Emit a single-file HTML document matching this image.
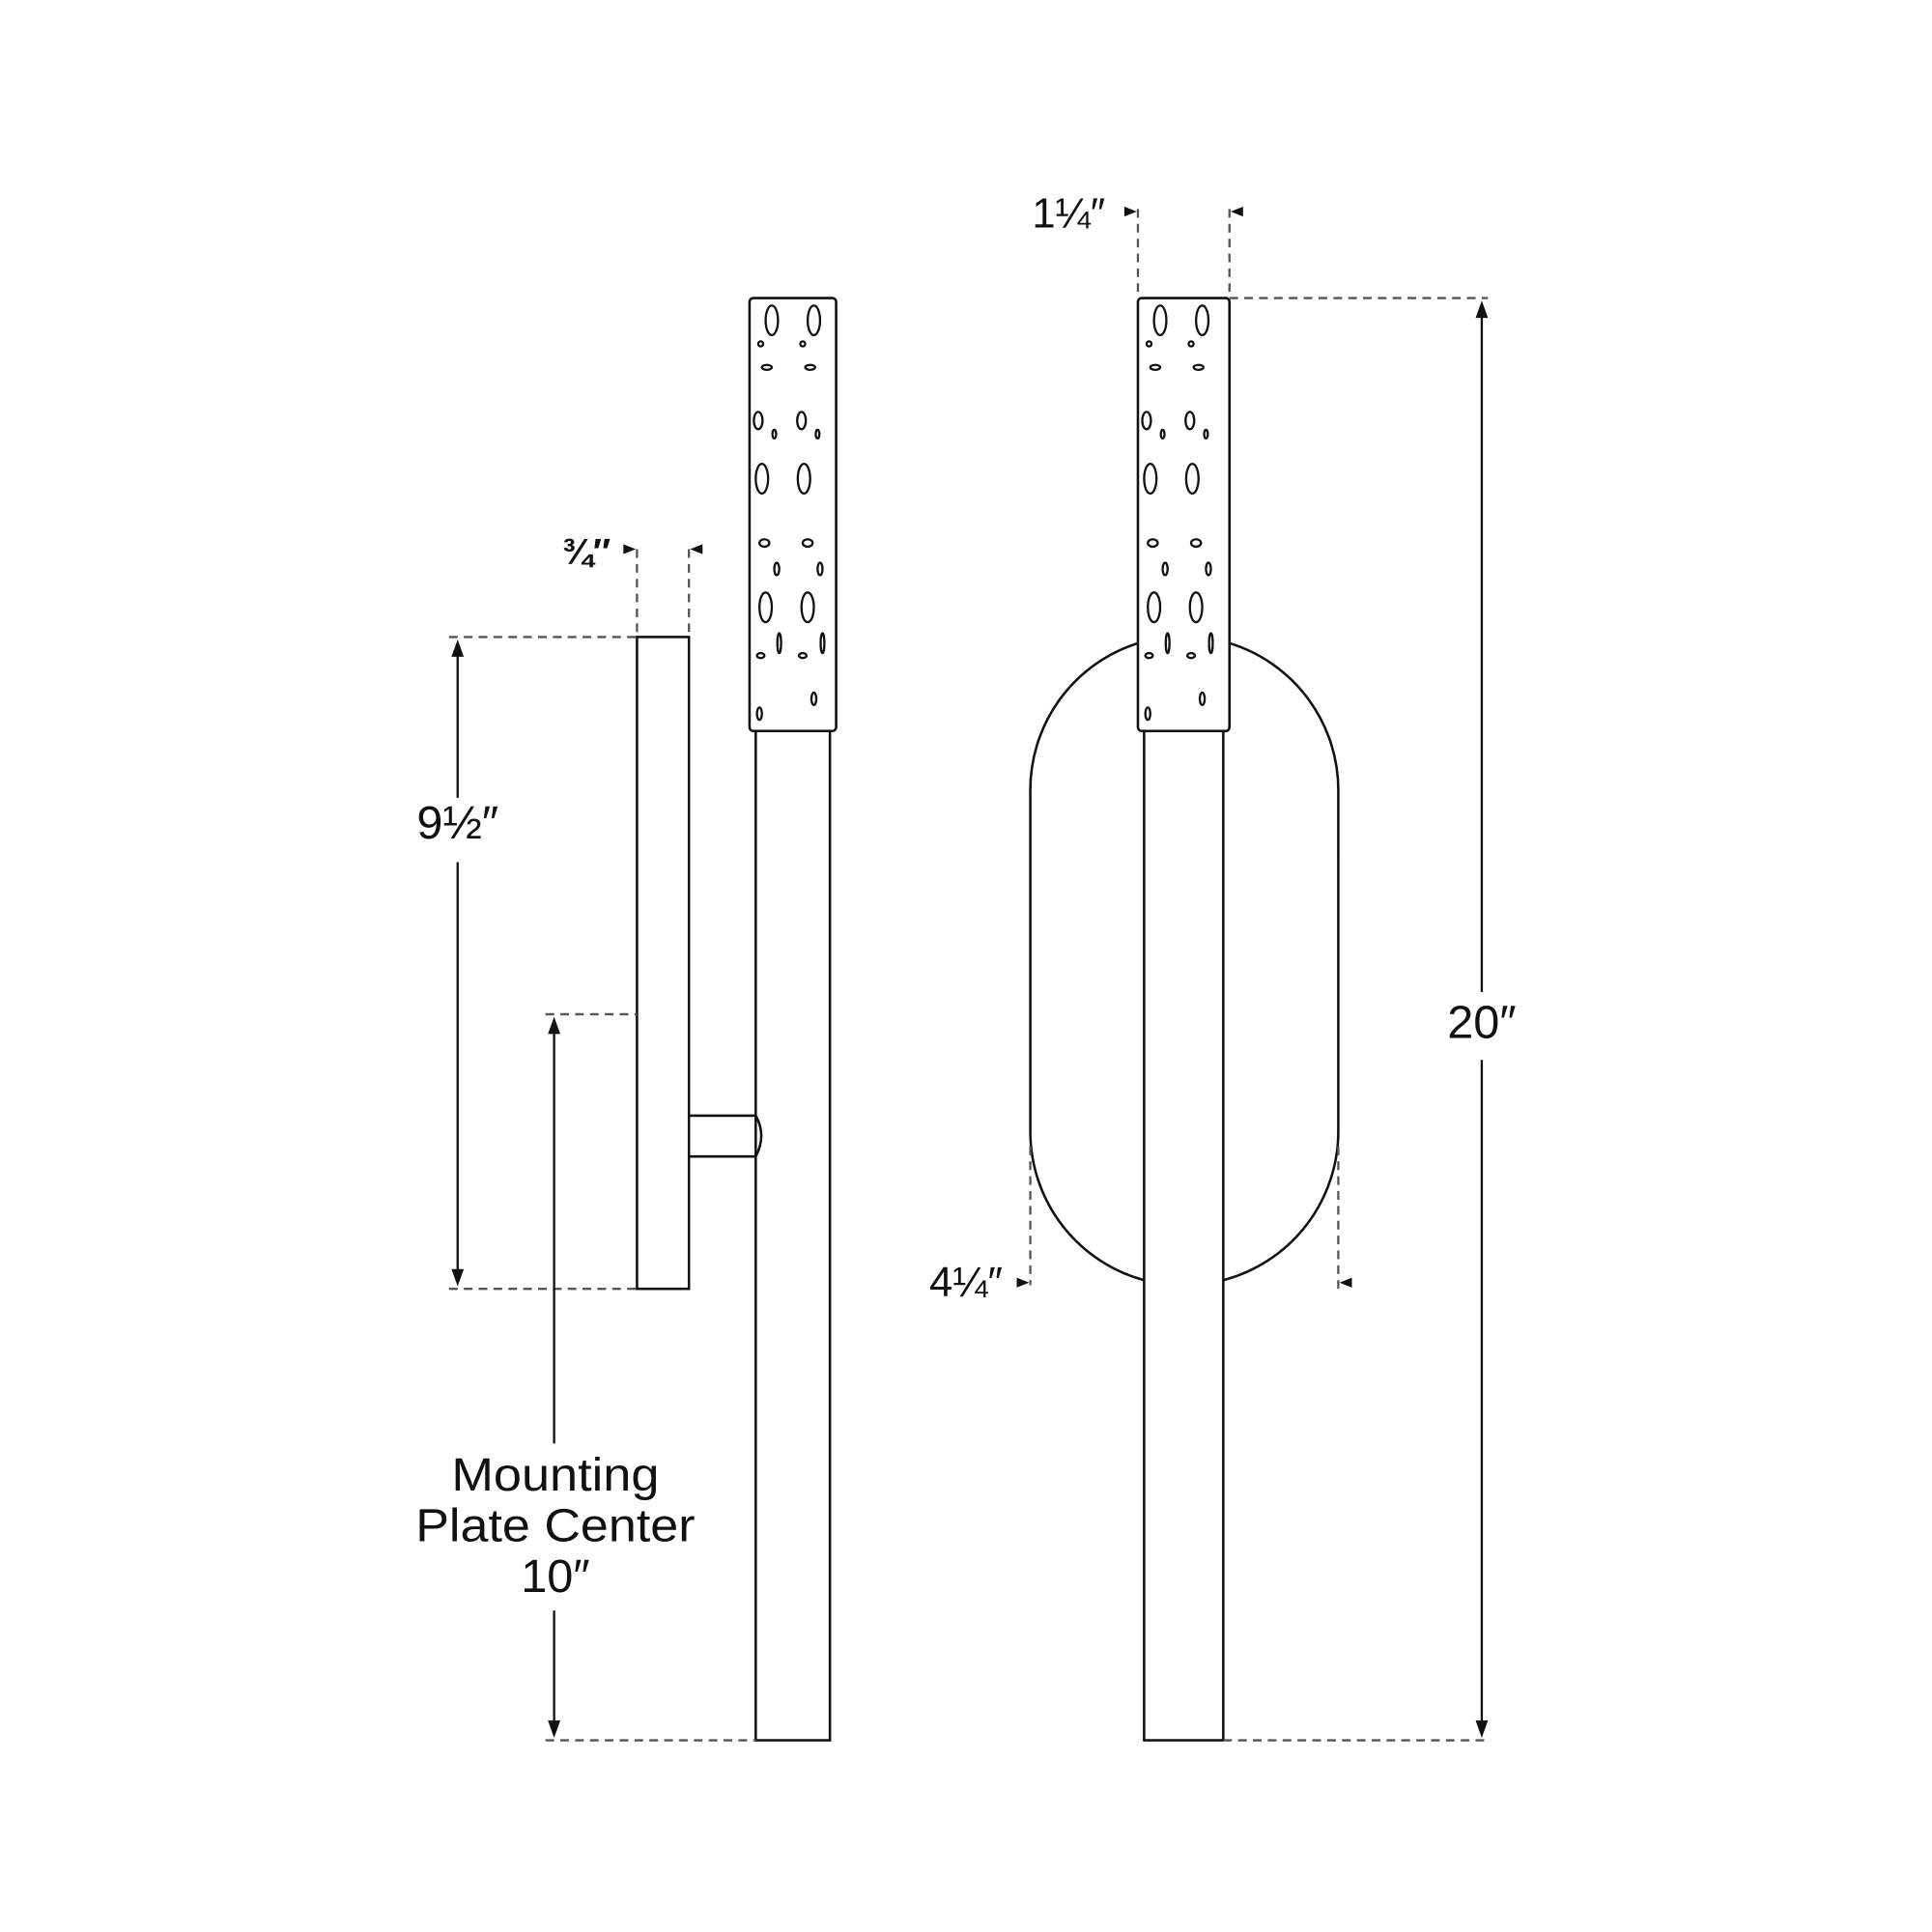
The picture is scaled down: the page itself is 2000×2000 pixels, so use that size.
<!DOCTYPE html>
<html><head><meta charset="utf-8"><style>html,body{margin:0;padding:0;background:#fff}svg{display:block}</style></head>
<body>
<svg width="2000" height="2000" viewBox="2 3 1562 1562" xmlns="http://www.w3.org/2000/svg">
<defs>
<g id="holes" fill="none" stroke="#111" stroke-width="1.8">
<ellipse cx="18" cy="18" rx="5" ry="12"/><ellipse cx="52" cy="18" rx="5" ry="12"/>
<ellipse cx="9" cy="37" rx="2" ry="2"/><ellipse cx="43" cy="37" rx="2" ry="2"/>
<ellipse cx="14" cy="56" rx="4" ry="2"/><ellipse cx="49" cy="56" rx="4" ry="2"/>
<ellipse cx="7" cy="99" rx="3.5" ry="7"/><ellipse cx="42" cy="99" rx="3.5" ry="7"/>
<ellipse cx="20" cy="110" rx="1.5" ry="3.5"/><ellipse cx="55" cy="110" rx="1.5" ry="3.5"/>
<ellipse cx="10" cy="146" rx="5" ry="12"/><ellipse cx="44" cy="146" rx="5" ry="12"/>
<ellipse cx="12" cy="198" rx="4" ry="3"/><ellipse cx="47" cy="198" rx="4" ry="3"/>
<ellipse cx="22" cy="219" rx="2" ry="5"/><ellipse cx="57" cy="219" rx="2" ry="5"/>
<ellipse cx="13" cy="250" rx="5" ry="12"/><ellipse cx="47" cy="250" rx="5" ry="12"/>
<ellipse cx="24" cy="279" rx="1.5" ry="8"/><ellipse cx="59" cy="279" rx="1.5" ry="8"/>
<ellipse cx="9" cy="289" rx="3" ry="2"/><ellipse cx="43" cy="289" rx="3" ry="2"/>
<ellipse cx="52" cy="324" rx="2" ry="5"/><ellipse cx="8" cy="336" rx="2" ry="5"/>
</g>
</defs>
<g fill="none" stroke="#111" stroke-width="2">
<rect x="517" y="518" width="42" height="527"/>
<path d="M559 905 H613 M559 938 H613 M613 905 Q622 921 613 938"/>
<rect x="613" y="594" width="60" height="816"/>
<rect x="608" y="244" width="70" height="350" rx="3"/>
<path d="M922 523 A124.5 124.5 0 0 0 835 644 V918 A124.5 124.5 0 0 0 927 1038"/>
<path d="M996 523 A124.5 124.5 0 0 1 1084 644 V918 A124.5 124.5 0 0 1 991 1038"/>
<rect x="927" y="594" width="64" height="816"/>
<rect x="922" y="244" width="74" height="350" rx="3"/>
</g>
<use href="#holes" x="608" y="244"/>
<use href="#holes" x="922" y="244"/>
<g fill="none" stroke="#555" stroke-width="1.8" stroke-dasharray="7,5">
<path d="M365 518 H517 M365 1045 H517 M443 823 H517 M443 1410 H613"/>
<path d="M517 447 V518 M559 447 V518"/>
<path d="M922 172 V244 M996 172 V244 M996 244 H1205 M991 1410 H1205"/>
<path d="M835 930 V1042 M1084 930 V1045"/>
</g>
<g stroke="#111" stroke-width="1.8" fill="none">
<path d="M372 530 V648 M372 700 V1033"/>
<path d="M450 835 V1170 M450 1305 V1398"/>
<path d="M1200 256 V805 M1200 860 V1398"/>
</g>
<g fill="#111">
<path d="M372 520 l-5 14 h10 z M372 1043 l-5 -14 h10 z"/>
<path d="M450 825 l-5 14 h10 z M450 1408 l-5 -14 h10 z"/>
<path d="M1200 246 l-5 14 h10 z M1200 1408 l-5 -14 h10 z"/>
<path d="M516 447 l-10 -4 v8 z M560 447 l10 -4 v8 z"/>
<path d="M921 174 l-10 -4 v8 z M997 174 l10 -4 v8 z"/>
<path d="M834 1040 l-10 -4 v8 z M1085 1040 l10 -4 v8 z"/>
</g>
<g fill="#111" font-family="Liberation Sans, sans-serif" text-anchor="middle">
<text x="372" y="681" font-size="38">9½″</text>
<text x="476" y="459" font-size="30" font-weight="bold">¾″</text>
<text x="866" y="187" font-size="34">1¼″</text>
<text x="783" y="1051" font-size="34">4¼″</text>
<text x="1200" y="842" font-size="38">20″</text>
<text x="451" y="1208" font-size="38" textLength="168" lengthAdjust="spacingAndGlyphs">Mounting</text>
<text x="451" y="1249" font-size="38" textLength="226" lengthAdjust="spacingAndGlyphs">Plate Center</text>
<text x="451" y="1290" font-size="38">10″</text>
</g>
</svg>
</body></html>
